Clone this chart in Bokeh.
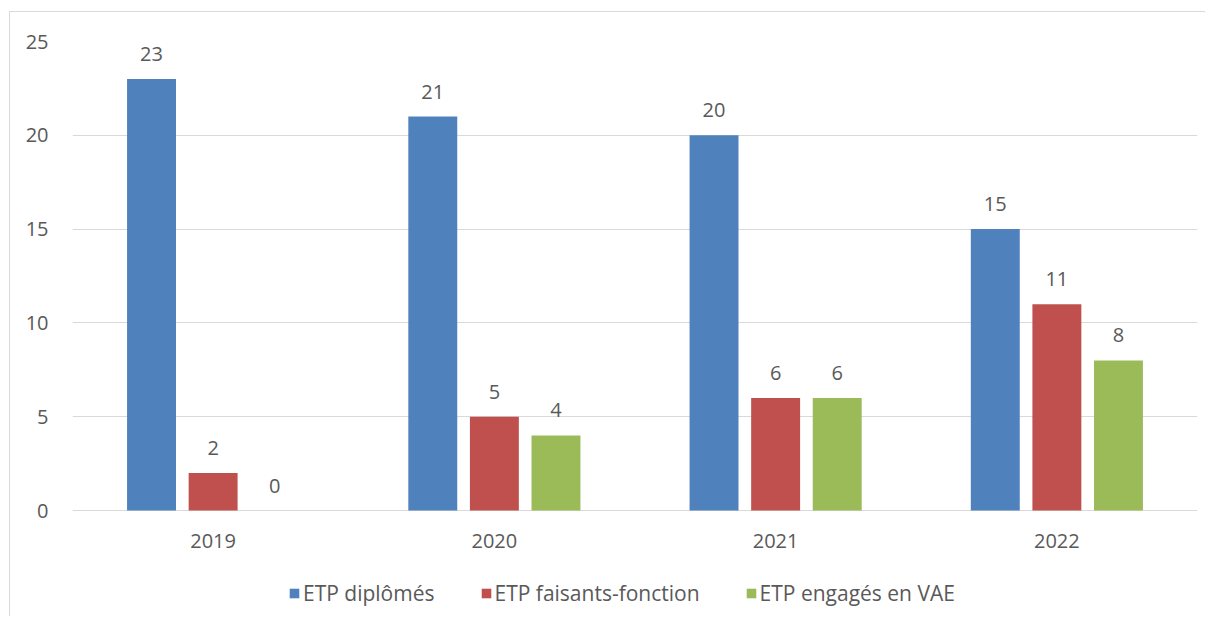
from bokeh.plotting import figure
from bokeh.models import ColumnDataSource, FactorRange, LabelSet, Legend, LegendItem, FixedTicker
from bokeh.transform import dodge
from bokeh.core.properties import value
from bokeh.embed import file_html
from bokeh.resources import INLINE

years = ["2019", "2020", "2021", "2022"]
series_names = ["ETP diplômés", "ETP faisants-fonction", "ETP engagés en VAE"]
diplomes = [23, 21, 20, 15]
faisants = [2, 5, 6, 11]
vae = [0, 4, 6, 8]
colors = ["#4F81BD", "#C0504D", "#9BBB59"]
y_ticks = [0, 5, 10, 15, 20, 25]

FONT = "Open Sans"
TXT = "#595959"
FS = "20px"

src = ColumnDataSource(dict(
    years=years, d=diplomes, f=faisants, v=vae,
    dl=[str(x) for x in diplomes], fl=[str(x) for x in faisants], vl=[str(x) for x in vae],
))

# frame extends below zero so that category labels and legend sit inside it
p = figure(x_range=FactorRange(factors=years, range_padding=0), y_range=(-102 / 18.76, 25),
           frame_width=1125, frame_height=571,
           min_border_left=62, min_border_right=8, min_border_top=29, min_border_bottom=4,
           output_backend="svg", toolbar_location=None, outline_line_color=None)
p.styles = {"border-top": "1px solid #d9d9d9", "border-left": "1px solid #d9d9d9",
            "margin-left": "9px", "margin-top": "11px"}

offsets = [-0.219, 0.0, 0.219]
fields = ["d", "f", "v"]
labels = ["dl", "fl", "vl"]
items = []
for off, fld, lab, col, name in zip(offsets, fields, labels, colors, series_names):
    r = p.vbar(x=dodge("years", off, range=p.x_range), top=fld, bottom=0, width=0.174,
               source=src, fill_color=col, line_color=None)
    items.append(LegendItem(label=name, renderers=[r]))
    ls = LabelSet(x=dodge("years", off, range=p.x_range), y=fld, text=lab, source=src,
                  text_align="center", text_baseline="middle", y_offset=25,
                  text_font=value(FONT), text_font_size=FS, text_color=TXT)
    p.add_layout(ls)

# category labels under the zero line
cat_labels = LabelSet(x="years", y=0, text="years", source=src,
                      text_align="center", text_baseline="middle", y_offset=-30,
                      text_font=value(FONT), text_font_size=FS, text_color=TXT)
p.add_layout(cat_labels)

p.xaxis.visible = False
p.xgrid.grid_line_color = None
p.ygrid.ticker = FixedTicker(ticks=y_ticks)
p.ygrid.grid_line_color = "#d9d9d9"
p.ygrid.grid_line_width = 1
p.yaxis.ticker = FixedTicker(ticks=y_ticks)
p.yaxis.axis_line_color = None
p.yaxis.major_tick_line_color = None
p.yaxis.minor_tick_line_color = None
p.yaxis.major_tick_out = 0
p.yaxis.major_tick_in = 0
p.yaxis.major_label_text_font = FONT
p.yaxis.major_label_text_font_size = FS
p.yaxis.major_label_text_color = TXT
p.yaxis.major_label_standoff = 24

legend = Legend(items=items, orientation="horizontal", location=(216, 5),
                glyph_width=12, glyph_height=12, label_standoff=3, spacing=45,
                label_text_font=FONT, label_text_font_size="21px", label_text_color=TXT,
                border_line_color=None, background_fill_alpha=0, padding=0, margin=0)
p.add_layout(legend, "center")

open("out.html", "w").write(file_html(p, INLINE))
